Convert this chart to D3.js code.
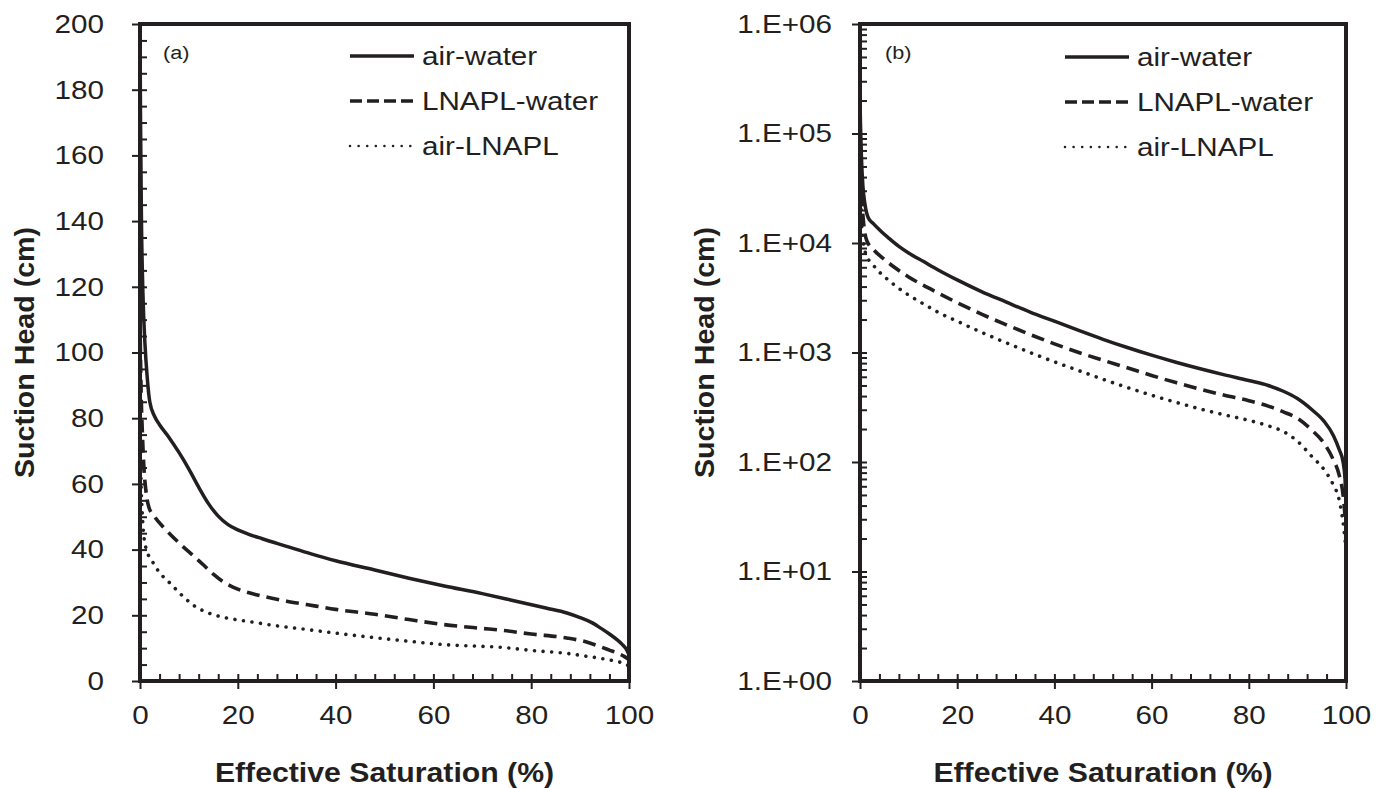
<!DOCTYPE html>
<html>
<head>
<meta charset="utf-8">
<script src="https://cdn.jsdelivr.net/npm/d3@7"></script>
<style>
  body { margin: 0; background: #fff; }
  text { font-family: "Liberation Sans", Arial, sans-serif; fill: #231f20; }
</style>
</head>
<body>
<svg id="chart" width="1385" height="788"></svg>
<script>
// --- data: [effective saturation %, suction head cm]

// (a) linear panel
let a_airWater = [[0,200],[0.1,172],[0.3,140],[0.6,118],[1.0,103],[1.5,92],[2,85],[3,80.5],[4,78],[6,74],[8,69.5],[10,64.5],[12,59],[14,54],[16,50.2],[18,47.6],[20,46],[22,44.8],[25,43.3],[30,41],[35,38.7],[40,36.6],[48,33.8],[55,31.3],[62,29],[70,26.6],[76,24.6],[83,22.2],[87.3,20.7],[90,19.3],[92.5,17.7],[94.2,16.1],[96,14.3],[97.6,12.5],[98.7,11],[99.4,9.8],[100,8]];
let a_lnaplWater = [[0,110],[0.2,90],[0.5,75],[0.8,65],[1.2,58],[1.8,53],[3,50],[5,46.5],[8,42],[11,38],[13,35.3],[15,32.5],[17,30.2],[19,28.6],[21,27.4],[24,26.2],[27,25.2],[30,24.3],[34,23.3],[40,21.8],[48,20.3],[55,18.7],[62,17.2],[70,16],[73.6,15.5],[80,14.3],[87.3,13.1],[91,12],[94.2,10.4],[96,9.4],[97.6,8.5],[99,7.5],[100,6.5]];
let a_airLnapl = [[0,80],[0.2,62],[0.5,50],[0.8,44],[1.3,40],[2.3,37],[4,33],[6,30],[9,25.5],[11,23],[13,21.3],[15,20.2],[17,19.4],[20,18.6],[24,17.7],[27,17],[34,15.7],[41,14.4],[48,13.2],[55,12.1],[62,11.1],[69,10.6],[73.6,10.3],[80,9.3],[87.3,8.4],[91,7.6],[94.2,6.9],[97.6,5.9],[99.3,5.2],[100,4.5]];

// (b) log panel
let b_airWater = [[0,200000],[0.1,120000],[0.3,60000],[0.6,33000],[1.0,23000],[1.7,17000],[2.7,15100],[4,13200],[6,11000],[8,9300],[10,8100],[13,6800],[16,5700],[20,4600],[25,3600],[30,2900],[35,2340],[40,1930],[45,1590],[50,1320],[55,1110],[60,945],[65,815],[70,710],[75,625],[80,555],[84,500],[87,445],[90,380],[93,300],[95.5,235],[97.4,175],[98.6,130],[99.4,100],[99.8,70],[100,40]];
let b_lnaplWater = [[0,100000],[0.1,60000],[0.3,30000],[0.7,16000],[1.4,10500],[3,8500],[5,7080],[7,6030],[10,4900],[13,4120],[16,3510],[20,2850],[25,2240],[30,1800],[35,1460],[40,1200],[45,1000],[50,850],[55,725],[60,617],[65,531],[70,462],[75,407],[80,363],[84,324],[87,288],[90,251],[93,195],[95.5,148],[97.3,107],[98.6,76],[99.4,50],[100,25]];
let b_airLnapl = [[0,60000],[0.1,35000],[0.3,16000],[0.7,10000],[1.4,7590],[2.5,6460],[4,5430],[6,4520],[8,3850],[10,3350],[13,2790],[16,2340],[20,1930],[25,1530],[30,1230],[35,1000],[40,822],[45,684],[50,569],[55,479],[60,407],[65,351],[70,305],[75,269],[80,240],[84,214],[87,191],[90,155],[93,112],[95.5,85],[97.3,63],[98.6,45],[99.4,28],[100,16]];

let seriesNames = ["air-water","LNAPL-water","air-LNAPL"];

let xMajor = [0,20,40,60,80,100];
let yMajorA = [0,20,40,60,80,100,120,140,160,180,200];
let yMajorB = [1,10,100,1000,10000,100000,1000000];
let yLabelsB = ["1.E+00","1.E+01","1.E+02","1.E+03","1.E+04","1.E+05","1.E+06"];

let xTitle = "Effective Saturation (%)";
let yTitle = "Suction Head (cm)";

// --- --- --- --- --- --- --- --- --- --- ---

const ink = "#231f20";
const stretchK = 1.14;   // the original text is a little wider than Arial
const svg = d3.select("#chart");

let lineStyles = [
  {dash: null, width: 3.5, cap: "butt"},
  {dash: "13 7", width: 3.6, cap: "butt"},
  {dash: "0.01 8.6", width: 3.6, cap: "round"}
];

function stretch(sel, k) {
  sel.each(function() {
    let t = d3.select(this);
    let x = +t.attr("x") || 0;
    t.attr("transform", "translate(" + x + ",0) scale(" + k + ",1) translate(" + (-x) + ",0)");
  });
}

function styleAxis(g) {
  g.select(".domain").remove();
  g.selectAll(".tick line").attr("stroke", ink).attr("stroke-width", 2);
  g.selectAll(".tick text").style("font-size", "26px").attr("fill", ink);
}

function drawPanel(p) {
  let g = svg.append("g");

  let x = d3.scaleLinear().domain([0,100]).range([p.left, p.right]);
  let y = p.log
    ? d3.scaleLog().domain([1,1e6]).range([p.bottom, p.top])
    : d3.scaleLinear().domain([0,200]).range([p.bottom, p.top]);

  // minor ticks, inside the frame
  let xMinor = d3.range(0, 101, 4);
  let yMinor = p.log
    ? d3.range(0, 6).flatMap(e => d3.range(1, 10).map(m => m * Math.pow(10, e)))
    : d3.range(0, 201, 5);

  g.append("g").attr("transform", "translate(" + p.left + ",0)")
    .call(d3.axisRight(y).tickValues(yMinor).tickSize(7).tickFormat(""))
    .call(styleAxis);
  g.append("g").attr("transform", "translate(0," + p.bottom + ")")
    .call(d3.axisTop(x).tickValues(xMinor).tickSize(7).tickFormat(""))
    .call(styleAxis);

  // major ticks, outside, with labels
  let yAx = g.append("g").attr("transform", "translate(" + p.left + ",0)")
    .call(d3.axisLeft(y).tickValues(p.yMajor).tickSize(8).tickPadding(p.yPad)
      .tickFormat(p.yFmt))
    .call(styleAxis);
  stretch(yAx.selectAll(".tick text"), stretchK);

  let xAx = g.append("g").attr("transform", "translate(0," + p.bottom + ")")
    .call(d3.axisBottom(x).tickValues(xMajor).tickSize(8).tickPadding(17))
    .call(styleAxis);
  stretch(xAx.selectAll(".tick text"), stretchK);

  // curves
  let line = d3.line()
    .x(d => x(d[0]))
    .y(d => y(d[1]))
    .curve(d3.curveMonotoneX);

  p.series.forEach(function(s, i) {
    let st = lineStyles[i];
    g.append("path")
      .datum(s)
      .attr("d", line)
      .attr("fill", "none")
      .attr("stroke", ink)
      .attr("stroke-width", st.width)
      .attr("stroke-linecap", st.cap)
      .attr("stroke-linejoin", "round")
      .attr("stroke-dasharray", st.dash);
  });

  // frame
  g.append("rect")
    .attr("x", p.left).attr("y", p.top)
    .attr("width", p.right - p.left).attr("height", p.bottom - p.top)
    .attr("fill", "none").attr("stroke", ink).attr("stroke-width", 4);

  // panel tag
  g.append("text")
    .attr("x", p.left + p.tagDx).attr("y", p.top + 35)
    .style("font-size", "19px")
    .text(p.tag)
    .call(stretch, stretchK);

  // legend
  seriesNames.forEach(function(name, i) {
    let st = lineStyles[i];
    let yy = p.legY + i * 45;
    g.append("line")
      .attr("x1", p.legX).attr("x2", p.legX + 64)
      .attr("y1", yy - 9).attr("y2", yy - 9)
      .attr("stroke", ink)
      .attr("stroke-width", i == 2 ? 2.6 : 3.4)
      .attr("stroke-linecap", st.cap)
      .attr("stroke-dasharray", i == 0 ? null : (i == 1 ? "12 5" : "0.01 8.6"));
    g.append("text")
      .attr("x", p.legX + 72).attr("y", yy)
      .style("font-size", "26px")
      .text(name)
      .call(stretch, stretchK);
  });

  // axis titles
  g.append("text")
    .attr("transform", "translate(" + ((p.left + p.right) / 2) + ",782) scale(1.08,1)")
    .attr("text-anchor", "middle")
    .style("font-size", "28px").style("font-weight", "bold")
    .text(xTitle);

  g.append("text")
    .attr("transform", "translate(" + p.yTitleX + "," + ((p.top + p.bottom) / 2) + ") rotate(-90) scale(1.06,1)")
    .attr("text-anchor", "middle")
    .style("font-size", "27px").style("font-weight", "bold")
    .text(yTitle);
}

drawPanel({
  left: 140, right: 629, top: 24, bottom: 681,
  log: false,
  yMajor: yMajorA, yPad: 28, yFmt: d3.format("d"),
  series: [a_airWater, a_lnaplWater, a_airLnapl],
  tag: "(a)", tagDx: 23,
  legX: 350, legY: 65,
  yTitleX: 34
});

drawPanel({
  left: 860, right: 1346, top: 24, bottom: 681,
  log: true,
  yMajor: yMajorB, yPad: 20, yFmt: (d, i) => yLabelsB[i],
  series: [b_airWater, b_lnaplWater, b_airLnapl],
  tag: "(b)", tagDx: 25,
  legX: 1065, legY: 66,
  yTitleX: 714
});
</script>
</body>
</html>
